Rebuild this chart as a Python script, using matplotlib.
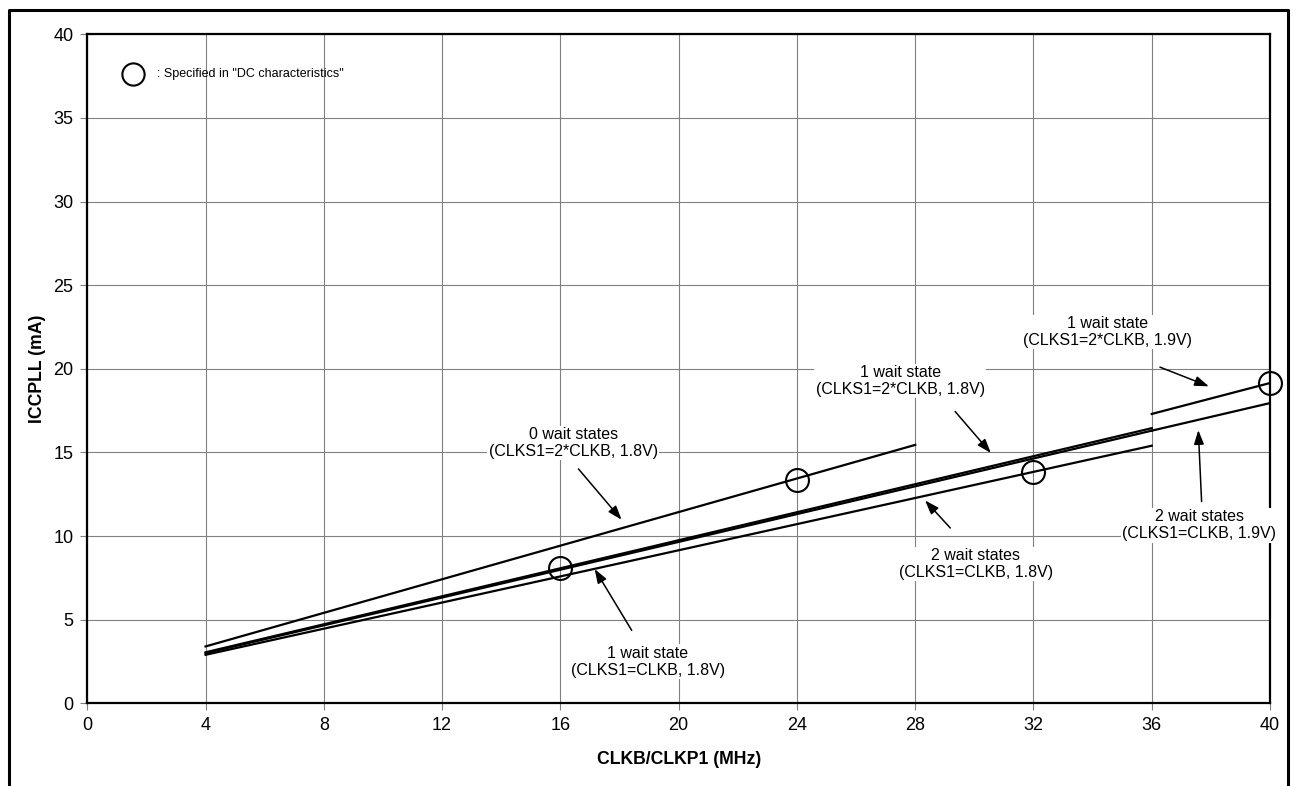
import numpy as np
import matplotlib.pyplot as plt
from matplotlib.lines import Line2D

plt.rcParams['font.family'] = ['Liberation Sans', 'DejaVu Sans']

# line end points (x in MHz, y in mA)
x_18 = [4, 36]
x_0ws = [4, 28]
x_19 = [36, 40]
y_0ws_2clkb_18 = [3.4, 15.45]
y_1ws_2clkb_18 = [3.05, 16.45]
y_1ws_clkb_18 = [3.0, 16.3]
y_2ws_clkb_18 = [2.9, 15.4]
y_1ws_2clkb_19 = [17.3, 19.15]
y_2ws_clkb_19 = [16.3, 17.95]

# points specified in "DC characteristics"
dc_x = [16, 24, 32, 40]
dc_y = [8.1, 13.35, 13.8, 19.15]

labels = [
    "0 wait states\n(CLKS1=2*CLKB, 1.8V)",
    "1 wait state\n(CLKS1=2*CLKB, 1.8V)",
    "1 wait state\n(CLKS1=2*CLKB, 1.9V)",
    "2 wait states\n(CLKS1=CLKB, 1.9V)",
    "2 wait states\n(CLKS1=CLKB, 1.8V)",
    "1 wait state\n(CLKS1=CLKB, 1.8V)",
]
label_xy = [(16.43, 15.56), (27.5, 19.27), (34.5, 22.2), (37.6, 10.65), (30.05, 8.33), (18.95, 2.49)]
arrow_from = [(16.55, 14.14), (29.29, 17.57), (36.19, 20.16), (37.69, 11.9), (29.25, 10.36), (18.46, 4.22)]
arrow_to = [(18.13, 10.85), (30.62, 14.84), (38.02, 18.89), (37.57, 16.5), (28.27, 12.25), (17.11, 8.17)]

fig = plt.figure(figsize=(12.97, 7.86), dpi=100)
ax = fig.add_axes([0.0673, 0.1052, 0.9119, 0.8512])

for yy in [y_1ws_2clkb_18, y_1ws_clkb_18, y_2ws_clkb_18]:
    ax.plot(x_18, yy, color='black', lw=1.6, zorder=3)
ax.plot(x_0ws, y_0ws_2clkb_18, color='black', lw=1.6, zorder=3)
ax.plot(x_19, y_1ws_2clkb_19, color='black', lw=1.6, zorder=3)
ax.plot(x_19, y_2ws_clkb_19, color='black', lw=1.6, zorder=3)

ax.plot(dc_x, dc_y, 'o', ms=16.5, mfc='none', mec='black', mew=1.5, zorder=4, clip_on=False)

for txt, pos, a, b in zip(labels, label_xy, arrow_from, arrow_to):
    ax.text(pos[0], pos[1], txt, ha='center', va='center', fontsize=11.5, linespacing=1.15,
            bbox=dict(facecolor='white', edgecolor='none', pad=1), zorder=5)
    ax.annotate('', xy=b, xytext=a,
                arrowprops=dict(arrowstyle='-|>,head_length=0.85,head_width=0.3', color='black', lw=1.1),
                zorder=5)

# legend-like note
ax.plot([1.55], [37.6], 'o', ms=16, mfc='none', mec='black', mew=1.5)
ax.text(2.35, 37.6, ': Specified in "DC characteristics"', va='center', fontsize=9)

ax.set_xlim(0, 40)
ax.set_ylim(0, 40)
ax.set_xticks(np.arange(0, 41, 4))
ax.set_yticks(np.arange(0, 41, 5))
ax.grid(True, color='#808080', lw=0.8)
ax.set_axisbelow(True)
ax.tick_params(direction='out', length=5, color='#808080', labelsize=13, pad=5)
for s in ax.spines.values():
    s.set_linewidth(1.6)
ax.set_xlabel('CLKB/CLKP1 (MHz)', fontsize=12.7, fontweight='bold', labelpad=12)
ax.set_ylabel('ICCPLL (mA)', fontsize=12.7, fontweight='bold', labelpad=5)

# outer frame (bottom edge is cut off)
fx = [8.5 / 1297, 8.5 / 1297, 1288 / 1297, 1288 / 1297]
fy = [0, 1 - 9.5 / 786, 1 - 9.5 / 786, 0]
fig.add_artist(Line2D(fx, fy, color='black', lw=2.2, transform=fig.transFigure))

fig.savefig('out.png', dpi=100)
